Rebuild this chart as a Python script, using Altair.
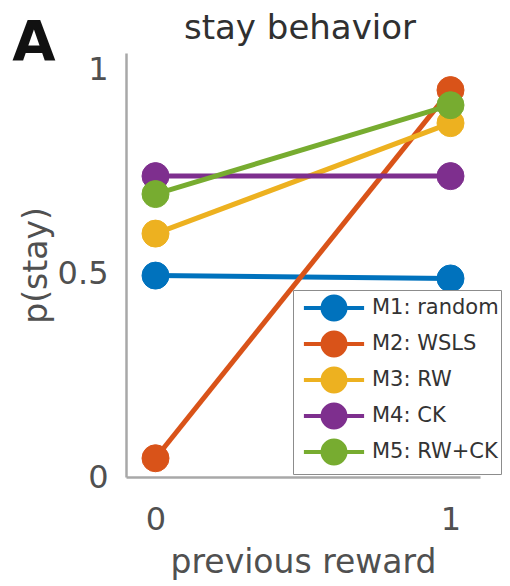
import altair as alt
import pandas as pd

models = ["M1: random", "M2: WSLS", "M3: RW", "M4: CK", "M5: RW+CK"]
colors = ["#0072BD", "#D95319", "#EDB120", "#7E2F8E", "#77AC30"]
reward = [0, 1]
stay_m1 = [0.494, 0.487]
stay_m2 = [0.046, 0.949]
stay_m3 = [0.597, 0.868]
stay_m4 = [0.738, 0.738]
stay_m5 = [0.694, 0.912]

series = [stay_m1, stay_m2, stay_m3, stay_m4, stay_m5]
rows = []
for i, (m, vals) in enumerate(zip(models, series)):
    for r, v in zip(reward, vals):
        rows.append({"model": m, "order": i, "reward": r, "stay": v})
df = pd.DataFrame(rows)

FONT = "DejaVu Sans"
xs = alt.Scale(domain=[-0.1, 1.1], nice=False, zero=False)
ys = alt.Scale(domain=[0, 1.04], nice=False, zero=False)
cs = alt.Scale(domain=models, range=colors)

# legend symbol: a line through a disc (disc built from concentric stroked rings)
rings = "".join(
    f"M{r},0A{r},{r},0,1,1,-{r},0A{r},{r},0,1,1,{r},0Z" for r in [0.82, 0.66, 0.5, 0.34, 0.18]
)
legend_path = "M-2.15,0L2.15,0" + rings

xaxis = alt.Axis(values=[0, 1], format="d", title="previous reward", grid=False, ticks=False,
                 domainColor="#a8a8a8", domainWidth=2.5, labelFont=FONT, labelFontSize=32,
                 labelColor="#505050", labelPadding=27, titleFont=FONT, titleFontSize=33,
                 titleFontWeight="normal", titleColor="#505050", titlePadding=11, labelFlush=False)
yaxis = alt.Axis(values=[0, 0.5, 1], title="p(stay)", grid=False, ticks=False,
                 domainColor="#a8a8a8", domainWidth=2.5, labelFont=FONT, labelFontSize=32,
                 labelColor="#505050", labelPadding=18, titleFont=FONT, titleFontSize=33,
                 titleFontWeight="normal", titleColor="#505050", titlePadding=4,
                 labelExpr="datum.value == 0.5 ? '0.5' : format(datum.value, 'd')", labelFlush=False)

legend = alt.Legend(
    title=None, orient="none", legendX=167, legendY=237,
    symbolType=legend_path, symbolSize=784, symbolStrokeWidth=4,
    symbolOffset=23, labelOffset=22, rowPadding=-16, padding=2,
    labelFont=FONT, labelFontSize=21, labelColor="#333333",
    strokeColor="#8c8c8c", fillColor="white", labelLimit=300,
)

base = alt.Chart(df)

lines = base.mark_line(strokeWidth=5).encode(
    x=alt.X("reward:Q", scale=xs, axis=xaxis),
    y=alt.Y("stay:Q", scale=ys, axis=yaxis),
    color=alt.Color("model:N", scale=cs, legend=legend),
    detail="model:N",
    order="order:Q",
)

points = base.mark_point(shape="circle", size=729, opacity=1, strokeWidth=1).encode(
    x=alt.X("reward:Q", scale=xs),
    y=alt.Y("stay:Q", scale=ys),
    fill=alt.Fill("model:N", scale=cs, legend=None),
    stroke=alt.Stroke("model:N", scale=cs, legend=None),
    order="order:Q",
)

annot = pd.DataFrame({"t": ["A", "stay behavior"], "kind": ["letter", "title"]})
letter = alt.Chart(annot).transform_filter("datum.kind == 'letter'").mark_text(
    font=FONT, fontSize=56, fontWeight="bold", color="#111111", align="center", baseline="alphabetic"
).encode(x=alt.value(-92), y=alt.value(7), text="t:N")
title = alt.Chart(annot).transform_filter("datum.kind == 'title'").mark_text(
    font=FONT, fontSize=34, color="#303030", align="center", baseline="alphabetic"
).encode(x=alt.value(174), y=alt.value(-14), text="t:N")

chart = alt.layer(lines, points, letter, title).properties(
    width=354, height=424,
    autosize=alt.AutoSizeParams(type="none"),
    padding={"left": 118, "top": 45, "right": 22, "bottom": 108},
).configure_view(stroke=None)

chart.save("out.html", embed_options={"renderer": "svg", "actions": False})
